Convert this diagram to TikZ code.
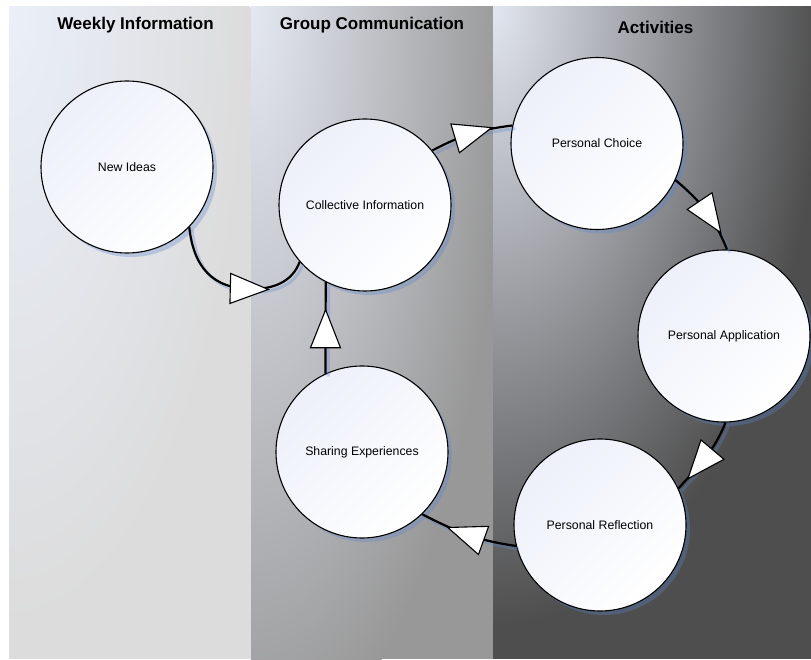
\documentclass[tikz,border=0pt]{standalone}
\usepackage{fontspec}
\setmainfont{Liberation Sans}
\usetikzlibrary{shadows,decorations.markings}
\definecolor{leftL}{RGB}{234,239,249}
\definecolor{leftD}{RGB}{220,220,220}
\definecolor{midL}{RGB}{228,232,242}
\definecolor{midD}{RGB}{152,152,152}
\definecolor{rightL}{RGB}{226,230,240}
\definecolor{rightD}{RGB}{78,78,78}
\definecolor{circTop}{RGB}{237,240,250}
\definecolor{shcol}{RGB}{91,134,206}
\begin{document}
\begin{tikzpicture}[x=1pt,y=1pt,
  circ/.style={circle, draw=black, line width=1.1pt, minimum size=172pt, inner sep=0pt,
    top color=circTop, bottom color=white, shading angle=45,
    drop shadow={shadow xshift=4pt, shadow yshift=-4pt, fill=shcol, opacity=.32},
    font=\fontsize{12.3}{14}\selectfont},
  title/.style={font=\fontsize{17}{20}\selectfont\bfseries},
  arrowtri/.style={fill=white, draw=black, line width=1.1pt, line join=miter},
  conn/.style={line width=2.2pt,
    preaction={draw=shcol, draw opacity=.3, line width=3pt, transform canvas={shift={(3pt,-3pt)}}},
    decoration={markings, mark=at position #1 with {\draw[arrowtri] (-19pt,15pt) -- (19pt,0pt) -- (-19pt,-15pt) -- cycle;}},
    postaction={decorate}}]
\useasboundingbox (0,0) rectangle (811,659);
\fill[white] (0,0) rectangle (811,659);
% panels
\begin{scope}
  \clip (9,0) rectangle (251,652);
  \fill[leftD] (9,0) rectangle (251,652);
  \shade[inner color=leftL, outer color=leftD] (9,652) ellipse [x radius=240, y radius=620];
\end{scope}
\begin{scope}
  \clip (251,0) rectangle (493,652);
  \fill[midD] (251,0) rectangle (493,652);
  \shade[inner color=midL, outer color=midD] (251,652) ellipse [x radius=255, y radius=760];
\end{scope}
\begin{scope}
  \clip (493,0) rectangle (811,652);
  \fill[rightD] (493,0) rectangle (811,652);
  \shade[inner color=rightL, outer color=rightD] (493,652) ellipse [x radius=330, y radius=620];
\end{scope}
% titles
\node[title] (t1) at (135.5,634) {Weekly Information};
\node[title] (t2) at (372,634) {Group Communication};
\node[title] (t3) at (655.5,632) {Activities};
% circles
\node[circ] (ni) at (127,492) {New Ideas};
\node[circ] (ci) at (365,454) {Collective Information};
\node[circ] (pc) at (597,515.5) {Personal Choice};
\node[circ] (pa) at (724,323) {Personal Application};
\node[circ] (pr) at (600,134) {Personal Reflection};
\node[circ] (se) at (362,207) {Sharing Experiences};
% connectors
\coordinate (m1) at (252,370);
\draw[conn=0.61] (ni.-44) to[out=-84,in=180,looseness=1.15] (m1) to[out=0,in=-110] (ci.-139);
\draw[conn=0.53] (ci.39) to[out=28,in=187] (pc.168);
\draw[conn=0.58] (pc.-25) to[out=-40,in=112] (pa.88);
\draw[conn=0.6] (pa.-89) to[out=-112,in=48] (pr.25);
\draw[conn=0.52] (pr.-166) to[out=172,in=-27] (se.-46);
\draw[conn=0.49] (se.115) -- (ci.-117);
\end{tikzpicture}
\end{document}
